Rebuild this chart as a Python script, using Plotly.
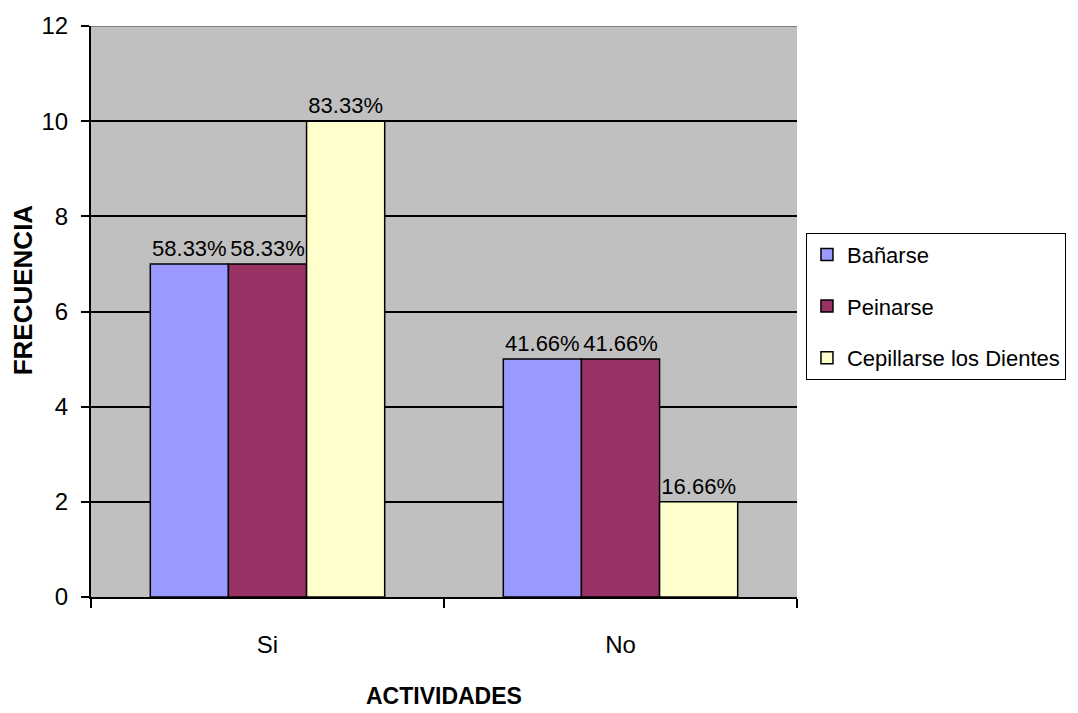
import plotly.graph_objects as go

# Survey results: frequency of each self-care activity
categorias = ["Si", "No"]
series = ["Bañarse", "Peinarse", "Cepillarse los Dientes"]
banarse = [7, 5]
peinarse = [7, 5]
cepillarse = [10, 2]
pct_banarse = ["58.33%", "41.66%"]
pct_peinarse = ["58.33%", "41.66%"]
pct_cepillarse = ["83.33%", "16.66%"]
y_ticks = [0, 2, 4, 6, 8, 10, 12]

colores = ["#9999FF", "#993366", "#FFFFCC"]
valores = [banarse, peinarse, cepillarse]
etiquetas = [pct_banarse, pct_peinarse, pct_cepillarse]

FONT = "Liberation Sans, Arial, sans-serif"

fig = go.Figure()
for i, nombre in enumerate(series):
    fig.add_trace(go.Bar(
        name=nombre,
        x=categorias,
        y=valores[i],
        text=etiquetas[i],
        textposition="outside",
        textfont=dict(family=FONT, size=22, color="black"),
        constraintext="none",
        cliponaxis=False,
        marker=dict(color=colores[i], line=dict(color="black", width=1.5)),
        legendgroup=str(i),
    ))

fig.update_layout(
    width=1078,
    height=713,
    margin=dict(l=91, r=279, t=22, b=116),
    paper_bgcolor="white",
    plot_bgcolor="#C0C0C0",
    barmode="group",
    bargap=0.336,
    bargroupgap=0,
    font=dict(family=FONT, size=22, color="black"),
    showlegend=True,
    legend=dict(
        x=1.0127, y=0.638, xanchor="left", yanchor="top",
        bgcolor="white", bordercolor="black", borderwidth=1,
        font=dict(family=FONT, size=22, color="black"),
        traceorder="grouped", tracegroupgap=20,
        itemwidth=30,
    ),
    xaxis=dict(
        type="category",
        showgrid=False,
        showline=True, linecolor="black", linewidth=2,
        ticks="outside", ticklen=9, tickwidth=1.5, tickcolor="black",
        tickson="boundaries",
        ticklabelstandoff=25,
        tickfont=dict(family=FONT, size=24),
    ),
    yaxis=dict(
        range=[0, 12],
        tickvals=y_ticks,
        showgrid=True, gridcolor="black", gridwidth=2,
        zeroline=False,
        showline=True, linecolor="black", linewidth=2,
        ticks="outside", ticklen=8, tickwidth=1.5, tickcolor="black",
        ticklabelstandoff=8,
        tickfont=dict(family=FONT, size=24),
    ),
    shapes=[
        dict(type="line", xref="paper", yref="y", x0=0, x1=1, y0=12, y1=12,
             line=dict(color="#808080", width=2), layer="above"),
    ],
    annotations=[
        dict(text="<b>FRECUENCIA</b>", xref="paper", yref="paper",
             x=-0.097, y=0.538, xanchor="center", yanchor="middle",
             textangle=-90, showarrow=False,
             font=dict(family=FONT, size=26, color="black")),
        dict(text="<b>ACTIVIDADES</b>", xref="paper", yref="paper",
             x=0.5, y=-0.174, xanchor="center", yanchor="middle",
             showarrow=False,
             font=dict(family=FONT, size=23, color="black")),
    ],
)

fig.write_html("out.html")
